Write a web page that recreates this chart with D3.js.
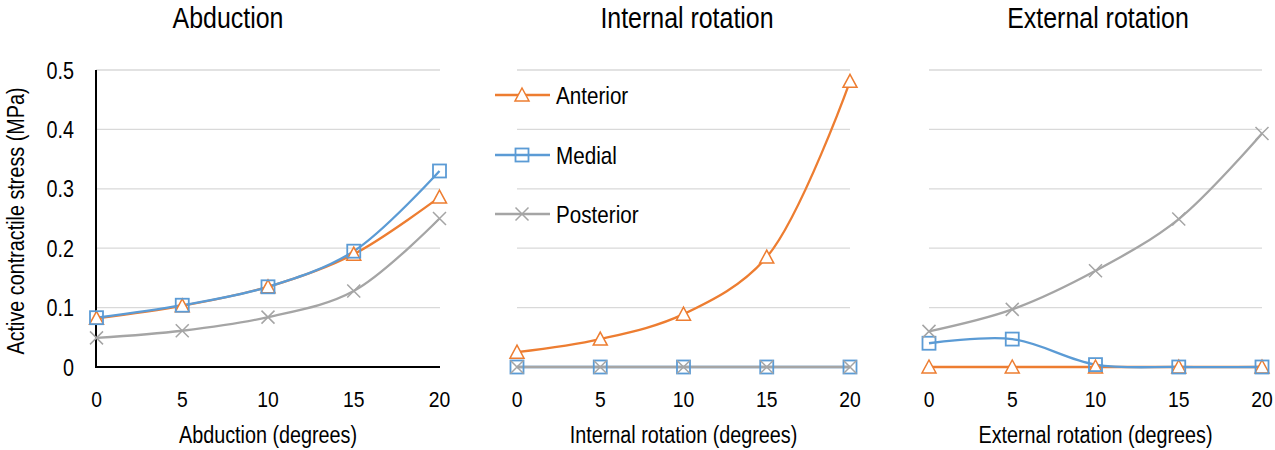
<!DOCTYPE html>
<html><head><meta charset="utf-8">
<script src="https://cdn.jsdelivr.net/npm/d3@7"></script>
<style>body{margin:0;background:#fff}svg{display:block;font-family:"Liberation Sans",Arial,sans-serif}</style>
</head><body><svg id="c" width="1275" height="450"></svg>
<script>
const xValues = [0, 5, 10, 15, 20];
const seriesNames = ["Anterior", "Medial", "Posterior"];
const panelTitles = ["Abduction", "Internal rotation", "External rotation"];
const xAxisTitles = ["Abduction (degrees)", "Internal rotation (degrees)", "External rotation (degrees)"];
const yTicks = [0, 0.1, 0.2, 0.3, 0.4, 0.5];
const yTickLabels = ["0", "0.1", "0.2", "0.3", "0.4", "0.5"];
const yAxisTitle = "Active contractile stress (MPa)";

const abductionAnterior = [0.082, 0.103, 0.135, 0.190, 0.286];
const abductionMedial = [0.083, 0.104, 0.135, 0.195, 0.330];
const abductionPosterior = [0.049, 0.061, 0.084, 0.128, 0.250];

const internalAnterior = [0.025, 0.047, 0.089, 0.185, 0.481];
const internalMedial = [0, 0, 0, 0, 0];
const internalPosterior = [0, 0, 0, 0, 0];

const externalAnterior = [0, 0, 0, 0, 0];
const externalMedial = [0.040, 0.047, 0.004, 0, 0];
const externalPosterior = [0.060, 0.097, 0.162, 0.249, 0.393];

const panelData = [
  [abductionAnterior, abductionMedial, abductionPosterior],
  [internalAnterior, internalMedial, internalPosterior],
  [externalAnterior, externalMedial, externalPosterior]
];
const colors = ["#ED7D31", "#5B9BD5", "#A5A5A5"];
const markers = ["triangle", "square", "cross"];

const svg = d3.select("#c");
const SX = 0.86;
function label(g, x, y, str, size, anchor, rot) {
  return g.append("text")
    .attr("transform", rot ? `translate(${x},${y}) rotate(-90) scale(${SX},1)` : `translate(${x},${y}) scale(${SX},1)`)
    .attr("text-anchor", anchor).attr("font-size", size).attr("fill", "#000").text(str);
}

const panels = [
  {x0: 96.5, x1: 439.5, gx0: 96, gx1: 440, tc: 228},
  {x0: 517, x1: 850, gx0: 517, gx1: 850, tc: 687},
  {x0: 929, x1: 1262, gx0: 929, gx1: 1262, tc: 1098}
];
const y = d3.scaleLinear().domain([0, 0.5]).range([367, 70]);

function drawMarker(g, type, cx, cy, color) {
  if (type === "triangle") {
    g.append("path").attr("d", `M${cx},${cy-7} L${cx+7},${cy+6} L${cx-7},${cy+6} Z`)
      .attr("fill", "#fff").attr("stroke", color).attr("stroke-width", 1.5);
  } else if (type === "square") {
    g.append("rect").attr("x", cx-6.5).attr("y", cy-6.5).attr("width", 13).attr("height", 13)
      .attr("fill", "none").attr("stroke", color).attr("stroke-width", 1.8);
  } else {
    g.append("path").attr("d", `M${cx-6.5},${cy-6.5} L${cx+6.5},${cy+6.5} M${cx+6.5},${cy-6.5} L${cx-6.5},${cy+6.5}`)
      .attr("stroke", color).attr("stroke-width", 1.5).attr("fill", "none");
  }
}

panels.forEach((p, i) => {
  const x = d3.scaleLinear().domain([0, 20]).range([p.x0, p.x1]);
  const g = svg.append("g");
  g.selectAll(".grid").data(yTicks.slice(1)).join("line")
    .attr("x1", p.gx0).attr("x2", p.gx1)
    .attr("y1", d => y(d)).attr("y2", d => y(d))
    .attr("stroke", "#d9d9d9").attr("stroke-width", 1.3);
  g.append("line").attr("x1", p.gx0).attr("x2", p.gx1).attr("y1", y(0)).attr("y2", y(0))
    .attr("stroke", "#000").attr("stroke-width", i === 0 ? 2 : 1.3);
  if (i === 0) {
    g.append("line").attr("x1", p.gx0).attr("x2", p.gx0).attr("y1", y(0.5)).attr("y2", y(0) + 1)
      .attr("stroke", "#000").attr("stroke-width", 2);
    yTicks.forEach((d, k) => label(g, 74, y(d) + 8.5, yTickLabels[k], 23, "end"));
    label(g, 24, 221, yAxisTitle, 23, "middle", true);
  }
  xValues.forEach(d => label(g, x(d), 407, String(d), 22.5, "middle"));
  label(g, (p.x0 + p.x1) / 2, 443, xAxisTitles[i], 23, "middle");
  label(g, p.tc, 28, panelTitles[i], 29, "middle");
  const line = d3.line().x((d, k) => x(xValues[k])).y(d => y(d)).curve(d3.curveCatmullRom.alpha(0.5));
  panelData[i].forEach((vals, s) => {
    g.append("path").attr("d", line(vals)).attr("fill", "none")
      .attr("stroke", colors[s]).attr("stroke-width", 2.3);
  });
  panelData[i].forEach((vals, s) => {
    vals.forEach((v, k) => drawMarker(g, markers[s], x(xValues[k]), y(v), colors[s]));
  });
});

const lg = svg.append("g");
const legendY = [95, 155, 214];
seriesNames.forEach((name, s) => {
  lg.append("line").attr("x1", 495).attr("x2", 550).attr("y1", legendY[s]).attr("y2", legendY[s])
    .attr("stroke", colors[s]).attr("stroke-width", 2.3);
  drawMarker(lg, markers[s], 522, legendY[s], colors[s]);
  label(lg, 556, legendY[s] + 9, name, 24, "start");
});
</script></body></html>
